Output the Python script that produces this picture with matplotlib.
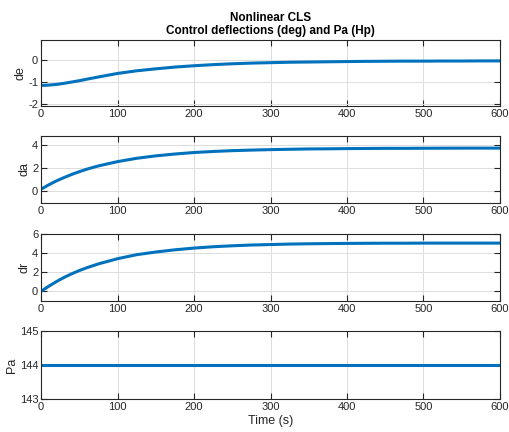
import matplotlib.pyplot as plt
import numpy as np

# time samples (s)
t = [0, 5, 10, 20, 30, 40, 50, 60, 75, 100, 125, 150, 175, 200, 225, 250,
     275, 300, 325, 350, 375, 400, 425, 450, 475, 500, 525, 550, 575, 600]

de = [-1.16, -1.16, -1.15, -1.12, -1.07, -1.01, -0.95, -0.88, -0.78, -0.62,
      -0.50, -0.41, -0.33, -0.27, -0.22, -0.18, -0.15, -0.13, -0.11, -0.10,
      -0.09, -0.08, -0.07, -0.065, -0.06, -0.06, -0.055, -0.055, -0.05, -0.05]
da = [0.2, 0.38, 0.57, 0.91, 1.2, 1.47, 1.71, 1.93, 2.21, 2.58, 2.87, 3.08,
      3.24, 3.37, 3.46, 3.53, 3.58, 3.62, 3.65, 3.68, 3.69, 3.71, 3.72,
      3.73, 3.73, 3.74, 3.745, 3.75, 3.75, 3.75]
dr = [0.0, 0.28, 0.54, 1.02, 1.46, 1.84, 2.18, 2.48, 2.88, 3.42, 3.84, 4.12,
      4.35, 4.53, 4.67, 4.77, 4.85, 4.9, 4.95, 4.98, 5.0, 5.02, 5.03, 5.04,
      5.04, 5.05, 5.05, 5.05, 5.05, 5.05]
Pa = [144.0] * len(t)

series = [de, da, dr, Pa]
ylabels = ['de', 'da', 'dr', 'Pa']
ylims = [(-2.1, 0.9), (-1, 4.8), (-1, 6), (143, 145)]
yticks = [[-2, -1, 0], [0, 2, 4], [0, 2, 4, 6], [143, 144, 145]]

plt.rcParams['font.family'] = ['Liberation Sans', 'DejaVu Sans']
plt.rcParams['font.size'] = 8
plt.rcParams['axes.unicode_minus'] = False

fig = plt.figure(figsize=(5.09, 4.32), dpi=100)
# axes boxes [left, bottom, width, height]
boxes = [[0.0806, 0.7546, 0.9017, 0.1528],
         [0.0806, 0.5301, 0.9017, 0.1551],
         [0.0806, 0.3032, 0.9017, 0.1551],
         [0.0806, 0.0764, 0.9017, 0.1574]]

dark = '#262626'
for i in range(4):
    ax = fig.add_axes(boxes[i])
    ax.plot(t, series[i], color='#0072BD', linewidth=2.2)
    ax.set_xlim(0, 600)
    ax.set_ylim(*ylims[i])
    ax.set_xticks([0, 100, 200, 300, 400, 500, 600])
    ax.set_yticks(yticks[i])
    ax.set_ylabel(ylabels[i], fontsize=9, color=dark, labelpad=1)
    ax.grid(True, color='#dcdcdc', linewidth=0.7)
    ax.tick_params(direction='in', top=True, right=True, length=4,
                   colors=dark, labelsize=8, pad=2)
    for s in ax.spines.values():
        s.set_color(dark)
        s.set_linewidth(0.8)
    if i == 0:
        ax.set_title('Nonlinear CLS\nControl deflections (deg) and Pa (Hp)',
                     fontsize=8.5, fontweight='bold', pad=4)
    if i == 3:
        ax.set_xlabel('Time (s)', fontsize=9, color=dark, labelpad=2)

fig.savefig('out.png', dpi=100)
